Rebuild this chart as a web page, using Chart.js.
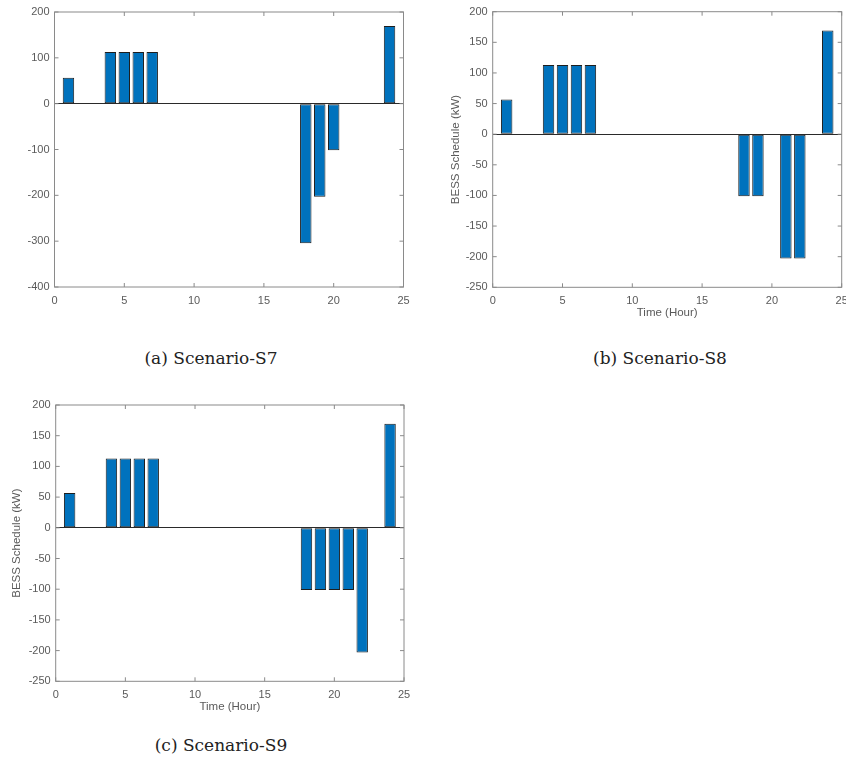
<!DOCTYPE html>
<html>
<head>
<meta charset="utf-8">
<script src="https://cdn.jsdelivr.net/npm/chart.js@4.4.1/dist/chart.umd.min.js"></script>
<style>
  html, body { margin: 0; padding: 0; background: #fff; overflow: hidden; }
  body { width: 846px; height: 772px; position: relative; }
  .panel { position: absolute; }
  .caption {
    position: absolute;
    font-family: "DejaVu Serif", serif;
    font-size: 17px;
    color: #222;
    white-space: nowrap;
    transform: translate(-50%, -50%);
  }
</style>
</head>
<body>
<div class="panel" style="left:0;top:0"><canvas id="chart-s7" width="420" height="330"></canvas></div>
<div class="panel" style="left:420px;top:0"><canvas id="chart-s8" width="446" height="330"></canvas></div>
<div class="panel" style="left:0;top:390px"><canvas id="chart-s9" width="420" height="330"></canvas></div>
<div class="caption" style="left:211px;top:358px">(a) Scenario-S7</div>
<div class="caption" style="left:660px;top:358px">(b) Scenario-S8</div>
<div class="caption" style="left:221px;top:745px">(c) Scenario-S9</div>

<script>
// hours of the day
const hours = [1, 2, 3, 4, 5, 6, 7, 8, 9, 10, 11, 12, 13, 14, 15, 16, 17, 18, 19, 20, 21, 22, 23, 24];

// BESS schedule per hour (kW), one array per scenario
const scheduleS7 = [56.5, 0, 0, 113, 113, 113, 113, 0, 0, 0, 0, 0, 0, 0, 0, 0, 0, -304.5, -203, -101.5, 0, 0, 0, 169.5];
const scheduleS8 = [56.5, 0, 0, 113, 113, 113, 113, 0, 0, 0, 0, 0, 0, 0, 0, 0, 0, -101.5, -101.5, 0, -203, -203, 0, 169.5];
const scheduleS9 = [56.5, 0, 0, 113, 113, 113, 113, 0, 0, 0, 0, 0, 0, 0, 0, 0, 0, -101.5, -101.5, -101.5, -101.5, -203, 0, 169.5];

// axis ranges / tick steps
const xRange = [0, 25];
const xStep = 5;
const yRangeS7 = [-400, 200];
const yStepS7 = 100;
const yRangeS8S9 = [-250, 200];
const yStepS8S9 = 50;

const yTitle = 'BESS Schedule (kW)';
const xTitle = 'Time (Hour)';

const tickFont = { family: 'Liberation Sans, Arial, sans-serif', size: 11 };
const titleFont = { family: 'Liberation Sans, Arial, sans-serif', size: 11.5 };

// matlab-style box with inward ticks on all four sides
const boxPlugin = {
    id: 'axisBox',
    afterDraw(chart) {
        const { ctx, chartArea: a, scales } = chart;
        const len = 4;
        ctx.save();
        ctx.strokeStyle = '#8a8a8a';
        ctx.lineWidth = 1;
        ctx.strokeRect(a.left, a.top, a.right - a.left, a.bottom - a.top);
        ctx.beginPath();
        scales.x.ticks.forEach(t => {
            const px = scales.x.getPixelForValue(t.value);
            ctx.moveTo(px, a.bottom); ctx.lineTo(px, a.bottom - len);
            ctx.moveTo(px, a.top); ctx.lineTo(px, a.top + len);
        });
        scales.y.ticks.forEach(t => {
            const py = scales.y.getPixelForValue(t.value);
            ctx.moveTo(a.left, py); ctx.lineTo(a.left + len, py);
            ctx.moveTo(a.right, py); ctx.lineTo(a.right - len, py);
        });
        ctx.stroke();
        ctx.restore();
    }
};

function makeChart(id, values, opts) {
    const ctx = document.getElementById(id).getContext('2d');
    const canvasH = 330;

    return new Chart(ctx, {
        type: 'bar',
        data: {
            datasets: [{
                data: hours.map((h, i) => ({ x: h, y: values[i] })),
                backgroundColor: '#0072BD',
                borderColor: '#1e1e1e',
                borderWidth: 1,
                borderSkipped: false,
                barPercentage: 0.82,
                categoryPercentage: 1.0
            }]
        },
        options: {
            responsive: false,
            animation: false,
            events: [],
            layout: {
                autoPadding: false,
                padding: { left: 0, top: opts.top, right: opts.right, bottom: 0 }
            },
            plugins: {
                legend: { display: false },
                tooltip: { enabled: false }
            },
            scales: {
                x: {
                    type: 'linear',
                    min: xRange[0],
                    max: xRange[1],
                    offset: false,
                    grid: { display: false, drawTicks: false },
                    border: { display: false },
                    ticks: {
                        stepSize: xStep,
                        padding: 7,
                        maxRotation: 0,
                        color: '#5a5a5a',
                        font: tickFont
                    },
                    title: {
                        display: opts.xLabel,
                        text: xTitle,
                        color: '#5a5a5a',
                        font: titleFont,
                        padding: { top: 0, bottom: opts.xTitlePad }
                    },
                    afterFit(scale) { scale.height = canvasH - opts.bottom; }
                },
                y: {
                    min: opts.yRange[0],
                    max: opts.yRange[1],
                    grid: {
                        drawTicks: false,
                        color: c => (c.tick && c.tick.value === 0 ? '#2a2a2a' : 'rgba(0,0,0,0)'),
                        lineWidth: 1
                    },
                    border: { display: false },
                    ticks: {
                        stepSize: opts.yStep,
                        padding: 5,
                        color: '#5a5a5a',
                        font: tickFont
                    },
                    title: {
                        display: opts.yLabel,
                        text: yTitle,
                        color: '#5a5a5a',
                        font: titleFont,
                        padding: { top: opts.yTitlePad, bottom: 0 }
                    },
                    afterFit(scale) { scale.width = opts.left; }
                }
            }
        },
        plugins: [boxPlugin]
    });
}

makeChart('chart-s7', scheduleS7, {
    left: 54.5, top: 12, right: 420 - 403.5, bottom: 287,
    yRange: yRangeS7, yStep: yStepS7,
    xLabel: false, yLabel: false, xTitlePad: 0, yTitlePad: 0
});

makeChart('chart-s8', scheduleS8, {
    left: 72.7, top: 11.7, right: 446 - 421.7, bottom: 287.3,
    yRange: yRangeS8S9, yStep: yStepS8S9,
    xLabel: true, yLabel: true, xTitlePad: 9.8, yTitlePad: 29
});

makeChart('chart-s9', scheduleS9, {
    left: 55.7, top: 15, right: 420 - 404, bottom: 291.3,
    yRange: yRangeS8S9, yStep: yStepS8S9,
    xLabel: true, yLabel: true, xTitlePad: 6.4, yTitlePad: 9.8
});
</script>
</body>
</html>
